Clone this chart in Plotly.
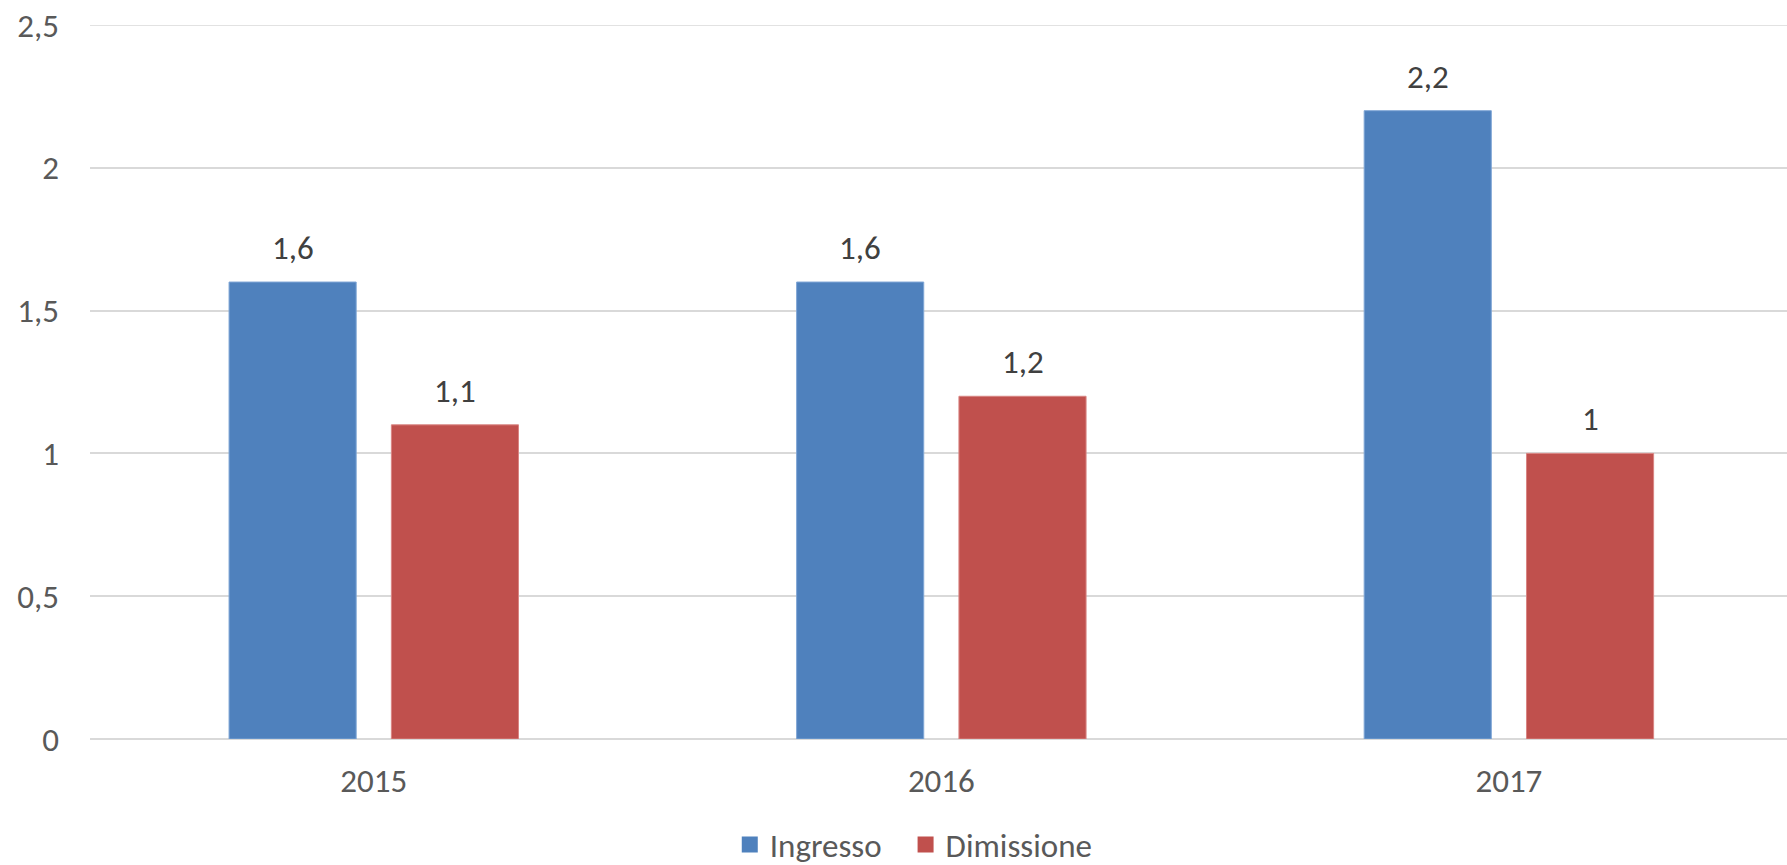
import plotly.graph_objects as go

years = ["2015", "2016", "2017"]
ingresso = [1.6, 1.6, 2.2]
dimissione = [1.1, 1.2, 1.0]
y_ticks = [0, 0.5, 1, 1.5, 2, 2.5]
y_tick_labels = ["0", "0,5", "1", "1,5", "2", "2,5"]

def fmt(v):
    s = ("%.1f" % v).rstrip("0").rstrip(".")
    return s.replace(".", ",")

FONT = "Calibri, Carlito, 'Open Sans', sans-serif"
FS = 33
BLUE = "#4F81BD"
RED = "#C0504D"
BAR_W = 0.224
OFFS = {"Ingresso": -0.255, "Dimissione": 0.031}
LEG = {"Ingresso": ("legend", 0.377), "Dimissione": ("legend2", 0.4806)}

xs = list(range(len(years)))
fig = go.Figure()
series = [("Ingresso", ingresso, BLUE, "#7FA6D6"), ("Dimissione", dimissione, RED, "#D98583")]
for name, vals, col, lc in series:
    fig.add_trace(go.Bar(
        x=xs, y=vals, name=name, width=BAR_W, offset=OFFS[name],
        marker=dict(color=col, line=dict(color=lc, width=1)),
        showlegend=False,
    ))
    fig.add_trace(go.Scatter(
        x=[None], y=[None], mode="markers", name=name, legend=LEG[name][0],
        marker=dict(symbol="square", size=19, color=col),
    ))

annotations = []
for name, vals, col, lc in series:
    for i, v in enumerate(vals):
        annotations.append(dict(
            x=i + OFFS[name] + BAR_W / 2, y=v, xref="x", yref="y",
            text=fmt(v), showarrow=False, yanchor="middle", yshift=34,
            font=dict(family=FONT, size=FS, color="#404040"),
        ))

def leg(xpos):
    return dict(
        orientation="h", x=xpos, xanchor="left", y=-0.148, yanchor="middle",
        font=dict(family=FONT, size=FS, color="#595959"),
        itemwidth=30, bgcolor="rgba(0,0,0,0)",
    )

fig.update_layout(
    width=1787, height=865,
    margin=dict(l=90, r=0, t=25, b=126, autoexpand=False),
    paper_bgcolor="white", plot_bgcolor="white",
    barmode="overlay",
    annotations=annotations,
    font=dict(family=FONT, size=FS, color="#595959"),
    legend=leg(LEG["Ingresso"][1]),
    legend2=leg(LEG["Dimissione"][1]),
    xaxis=dict(
        range=[-0.5, 2.49], tickmode="array", tickvals=xs, ticktext=years,
        showgrid=False, zeroline=False, showline=False, ticks="",
        tickfont=dict(family=FONT, size=FS, color="#595959"),
        ticklabelstandoff=19, automargin=False,
    ),
    yaxis=dict(
        range=[0, 2.5], tickmode="array", tickvals=y_ticks, ticktext=y_tick_labels,
        showgrid=True, gridcolor="#D9D9D9", gridwidth=1.5,
        zeroline=True, zerolinecolor="#D9D9D9", zerolinewidth=1.5,
        showline=False, ticks="",
        tickfont=dict(family=FONT, size=FS, color="#595959"),
        ticklabelstandoff=30, automargin=False,
    ),
    shapes=[dict(type="line", xref="paper", yref="y", x0=0, x1=1, y0=2.5, y1=2.5,
                 line=dict(color="#D9D9D9", width=1.5), layer="below")],
)

fig.write_html(
    "out.html",
    config={"displayModeBar": False},
    post_script="document.body.style.margin='0';document.body.style.overflow='hidden';",
)
